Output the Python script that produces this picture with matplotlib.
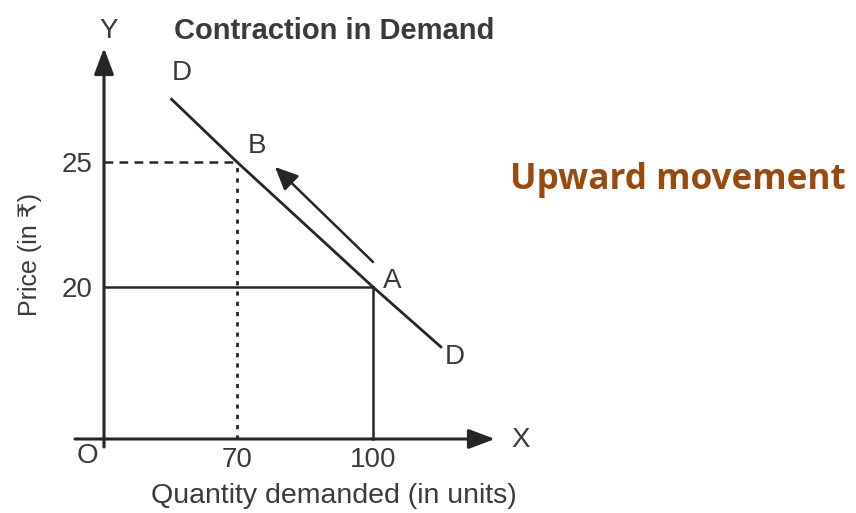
import numpy as np
import matplotlib
matplotlib.use("Agg")
import matplotlib.pyplot as plt

# ---------------- data ----------------
quantity_ticks = [70, 100]
quantity_labels = ["70", "100"]
price_ticks = [20, 25]
price_labels = ["20", "25"]

point_A = (100, 20)   # (quantity, price)
point_B = (70, 25)
demand_q = [35, 70, 100, 115.2]
demand_p = [27.55, 25, 20, 12.0]
move_start = (100, 21.0)
move_end = (78.4, 24.8)

title = "Contraction in Demand"
xlabel = "Quantity demanded (in units)"
ylabel = "Price (in ₹)"
note = "Upward movement"

# ---------------- schematic (non-linear) scales ----------------
xp = [-60, 0, 70, 100, 220]
xf = [-114, 0, 133, 269, 813]
yp = [-12, 0, 20, 25, 35]
yf = [-91.2, 0, 152, 277, 527]

def fx(v):
    return np.interp(v, xp, xf)

def ix(v):
    return np.interp(v, xf, xp)

def fy(v):
    return np.interp(v, yp, yf)

def iy(v):
    return np.interp(v, yf, yp)

ink = "#262626"
txt = "#3a3a3a"
fam = ["Liberation Sans", "DejaVu Sans"]

fig = plt.figure(figsize=(8.56, 5.13), dpi=100)
ax = fig.add_axes([0, 0, 1, 1])
ax.set_xscale("function", functions=(fx, ix))
ax.set_yscale("function", functions=(fy, iy))
ax.set_xlim(ix(-104), ix(752))
ax.set_ylim(iy(-74), iy(439))

for s in ["top", "right"]:
    ax.spines[s].set_visible(False)
ax.spines["left"].set_position(("data", 0))
ax.spines["bottom"].set_position(("data", 0))
ax.spines["left"].set_visible(False)
ax.spines["bottom"].set_visible(False)
ax.patch.set_alpha(0)

ax.set_xticks(quantity_ticks, quantity_labels)
ax.set_yticks(price_ticks, price_labels)
ax.minorticks_off()
ax.tick_params(axis="x", length=0, pad=6, labelsize=20, labelcolor=txt)
ax.tick_params(axis="y", length=0, pad=8, labelsize=20, labelcolor=txt)
for lab in ax.get_xticklabels() + ax.get_yticklabels():
    lab.set_family(fam)

# axes with arrowheads
ax.annotate("", xy=(ix(391), 0), xytext=(ix(-29), 0),
            arrowprops=dict(arrowstyle="-|>,head_length=0.8,head_width=0.3",
                            mutation_scale=20, lw=2.2, color=ink,
                            shrinkA=0, shrinkB=0))
ax.annotate("", xy=(0, iy(391)), xytext=(0, iy(-8)),
            arrowprops=dict(arrowstyle="-|>,head_length=0.8,head_width=0.3",
                            mutation_scale=20, lw=2.2, color=ink,
                            shrinkA=0, shrinkB=0))

# demand curve
ax.plot(demand_q, demand_p, color=ink, lw=2.0, solid_capstyle="butt")

# guide lines
ax.plot([0, point_B[0]], [point_B[1], point_B[1]], color=ink, lw=1.8,
        linestyle=(0, (3.5, 2.5)))
ax.plot([point_B[0], point_B[0]], [0, point_B[1]], color=ink, lw=2.0,
        linestyle=(0, (1.5, 2.2)))
ax.plot([0, point_A[0]], [point_A[1], point_A[1]], color=ink, lw=1.8)
ax.plot([point_A[0], point_A[0]], [0, point_A[1]], color=ink, lw=1.8)

# movement arrow
ax.annotate("", xy=move_end, xytext=move_start,
            arrowprops=dict(arrowstyle="-|>,head_length=0.7,head_width=0.32",
                            mutation_scale=20, lw=1.8, color=ink,
                            shrinkA=0, shrinkB=0))

def ptxt(px, py, s, **kw):
    # px, py: pixel position in the figure (from top-left)
    fig.text(px / 856, 1 - py / 513, s, ha="center", va="center",
             family=fam, color=txt, **kw)

ptxt(182, 73, "D", fontsize=20)
ptxt(257, 146, "B", fontsize=20)
ptxt(392, 281, "A", fontsize=20)
ptxt(455, 357, "D", fontsize=20)
ptxt(109, 31, "Y", fontsize=20)
ptxt(521, 440, "X", fontsize=20)
ptxt(87, 456, "O", fontsize=20)

ptxt(334, 31, title, fontsize=21, fontweight="bold")
ptxt(334, 496, xlabel, fontsize=20.5)
ptxt(30, 254, ylabel, fontsize=18, rotation=90)

fig.text(510 / 856, 1 - 180 / 513, note, ha="left", va="center",
         family=["Open Sans", "DejaVu Sans"], fontweight="bold",
         fontsize=25.3, color="#9a4a0c")

fig.savefig("out.png", dpi=100)
